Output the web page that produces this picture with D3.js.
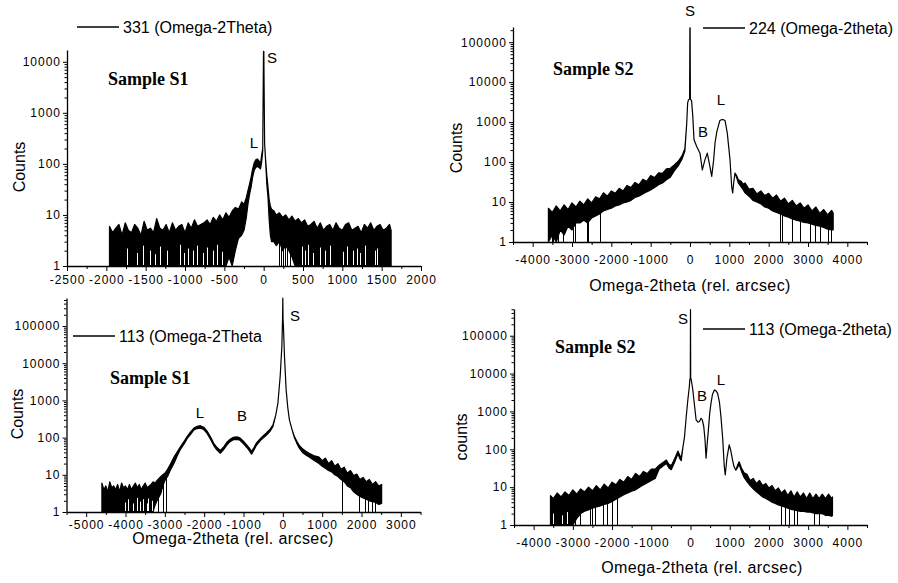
<!DOCTYPE html>
<html>
<head>
<meta charset="utf-8">
<script src="https://cdn.jsdelivr.net/npm/d3@7"></script>
<style>
  body { margin: 0; background: #fff; }
  text { font-family: "Liberation Sans", Arial, sans-serif; fill: #000; }
  .tick text { font-size: 12px; letter-spacing: 1px; }
  .sample { font-family: "Liberation Serif", "Times New Roman", serif; font-weight: bold; font-size: 18px; }
</style>
</head>
<body>
<div id="chart"></div>
<script>

// values: position in rel. arcsec, upper / lower edge of the trace in counts
// dips = positions where the noisy trace drops down to 1 count
// gaps = white slits inside the solid noise band (position, height in counts)

// 331 Omega-2Theta, sample S1
var p1X = [-1960,-1920,-1880,-1840,-1800,-1760,-1720,-1680,-1640,-1600,-1560,-1520,-1480,-1440,-1400,-1360,-1320,-1280,-1240,-1200,-1160,-1120,-1080,-1040,-1000,-960,-920,-880,-840,-800,-760,-720,
  -680,-640,-600,-560,-520,-480,-440,-400,-360,-320,-280,-250,-220,-200,-180,-160,-140,-120,-100,-80,-60,-40,-25,-12,-6,-2,2,6,12,25,40,55,70,85,100,130,160,200,240,280,320,360,400,440,480,
  520,560,600,640,680,720,760,800,840,880,920,960,1000,1040,1080,1120,1160,1200,1240,1280,1320,1360,1400,1440,1480,1520,1560,1600,1620];
var p1Hi = [6,4.5,5.5,6.5,4,7,5,4.5,6.5,5.5,4,7.5,5,5.5,4.5,8.5,5.5,5,6.5,4.5,7,5,6,6.5,4.5,7,5.5,8,6,6.5,7,8,
  6.5,9,7.5,10,8,11,9,12,14,13,18,16,22,30,40,55,80,105,120,125,115,100,150,200,3000,16000,16000,3000,250,120,60,35,20,15,13,12,10,11,9,10,8,9.5,7.5,8.5,7,
  8,6,6.5,7.5,5.5,7,5,6,6.5,5,7,5.5,5,6.5,7,5,5.5,6,4.5,6.5,5.5,7,5,6,6.5,5,5.5,6.5,5];
var p1Lo = [1,1,1,1,1,1,1,1,1,1,1,1,1,1,1,1,1,1,1,1,1,1,1,1,1,1,1,1,1,1,1,1,
  1,1,1,1,1,1,1.5,1,2,3.5,4,5,9,16,25,35,55,75,85,90,85,80,110,180,3000,16000,16000,3000,250,110,40,22,8,4,3,3,2.5,3,2,2.5,2,1.5,1,1,1,
  1,1,1,1,1,1,1,1,1,1,1,1,1,1,1,1,1,1,1,1,1,1,1,1,1,1,1,1,1];
var p1Dips = [190,215,250,270,300,330];
var p1Gaps = [-1737,-1610,-1534,-1445,-1382,-1318,-1229,-1064,-1013,-962,-899,-848,-771,-721,-645,-594,-530,
  487,525,563,627,716,779,843,1009,1059,1136,1187,1225,1288,1415,1441];
var p1GapTop = [2.2,1.8,2.5,2,1.7,2.4,2,2.6,1.8,2.2,2,2.5,1.8,2.3,2,2.6,1.9,
  2.4,2,2.6,1.8,2.3,2,2.5,1.9,2.4,2,2.2,1.8,2.5,2,2.2];

// 224 Omega-2theta, sample S2
var p2X = [-3600,-3500,-3400,-3300,-3200,-3100,-3000,-2900,-2800,-2700,-2600,-2500,-2400,-2300,-2200,-2100,-2000,-1900,-1800,-1700,-1600,-1500,-1400,-1300,-1200,-1100,-1000,-900,-800,-700,-600,-500,
  -400,-300,-200,-130,-84,-60,-40,-10,-3,3,10,40,69,102,170,254,313,381,440,491,552,600,636,680,719,760,800,850,890,948,1017,1060,1085,1110,1144,1190,1228,1300,1355,
  1400,1500,1600,1700,1800,1900,2000,2100,2200,2300,2400,2500,2600,2700,2800,2900,3000,3100,3200,3300,3400,3500,3600,3640];
var p2Hi = [7,5.5,8,6,8.5,6.5,9.5,7.5,10.5,8.5,12,9.5,13.5,12,17,14,19,16.5,22,19,26,23,31,27,37,33,46,41,54,52,68,70,
  85,105,145,220,900,3000,3600,3800,230000,230000,3800,3400,1500,360,245,167,64,115,167,93,44,110,300,560,780,1100,1150,1150,1100,530,115,24,17,30,53,45,36,33,28,
  30,21,22,16,19,14.5,16.5,12.5,15,10.5,12.5,9,11,8,9.5,7,8.5,6,7.5,5.2,6.5,4.8,6.2,5.3];
var p2Lo = [1,1.5,1,2,1.5,2.5,2,3,3,3.5,3,4,4.5,5,6,6.5,7,8,8.5,9.5,10,11,13,14,16,18,20,23,27,30,36,42,
  60,80,120,190,900,3000,3600,3800,230000,230000,3800,3400,1500,360,245,167,64,115,167,93,44,110,300,560,780,1100,1150,1150,1100,530,115,24,17,30,53,40,30,24,20,
  17,14,11,10,9,7.5,7,6,5.5,5,4.5,4.2,3.8,3.5,3.3,3.1,3,2.8,2.6,2.5,2.3,2.1,2,2];
var p2Dips = [-3515,-3473,-3346,-3218,-2965,-2922,-2626,-2583,-2287,2287,2329,2583,2795,3049,3176,3303,3515,3574];
var p2Gaps = [];
var p2GapTop = [];

// 113 Omega-2Theta, sample S1
var p3X = [-4600,-4550,-4500,-4450,-4400,-4350,-4300,-4250,-4200,-4150,-4100,-4050,-4000,-3950,-3900,-3850,-3800,-3750,-3700,-3650,-3600,-3550,-3500,-3450,-3400,-3350,-3300,
  -3250,-3200,-3150,-3100,-3050,-3000,-2930,-2850,-2760,-2680,-2596,-2510,-2430,-2350,-2260,-2180,-2094,-2010,-1926,-1840,-1760,-1680,-1590,-1510,-1424,-1340,-1256,-1170,-1090,-1000,
  -920,-850,-795,-730,-670,-550,-420,-330,-250,-180,-125,-67,-25,-8,0,5,15,42,84,125,167,230,293,356,419,500,585,670,780,
  920,1000,1080,1160,1240,1320,1400,1480,1560,1640,1720,1800,1880,1960,2040,2120,2200,2280,2360,2440,2512];
var p3Hi = [6,4,5,3.5,6.5,4.5,5,4,5.5,3.5,6,4.5,5,4,5.5,4,5,6,4.5,5.5,4,5,6,4.5,5,5.5,6.5,
  6,7,8,9,10,11,14,20,31,42,58,80,108,140,181,200,209,190,150,105,71,55,45,55,75,90,102,105,98,80,
  64,52,42,55,72,100,133,165,222,400,850,4500,28000,150000,560000,160000,100000,15000,1950,650,300,170,108,80,62,50,43,38,33,
  30,24,28,20,24,17,20,14,16,11,13,9.5,10.5,7.5,8.5,6.5,7.5,5.5,6.5,5,5.5];
var p3Lo = [1,1,1,1,1,1,1,1,1,1,1,1,1,1,1,1,1,1,1,1,1,1,1,1,1,1,1,
  1.5,2,2.5,3.2,5,7,9,14,21,33,50,68,95,120,160,175,180,165,130,90,62,47,38,47,63,78,88,90,85,68,
  55,44,36,47,62,88,115,145,200,400,850,4500,28000,150000,560000,160000,100000,15000,1950,650,300,170,100,70,52,40,34,30,25,
  20,17,15,13,12,10,9,7.5,6.5,5,4.5,3.5,3,2.6,2.4,2.2,2,1.9,1.8,1.6,1.7];
var p3Dips = [-3183,-3057,-2973,1507,1926,2094,2160,2261,2345];
var p3Gaps = [-4013,-3929,-3802,-3716,-3632,-3548,-3461,-3421,-3334];
var p3GapTop = [1.8,2.2,1.7,2.4,1.9,2.2,1.7,2.3,2];

// 113 Omega-2theta, sample S2
var p4X = [-3570,-3500,-3400,-3300,-3200,-3100,-3000,-2900,-2800,-2700,-2600,-2500,-2400,-2300,-2200,-2100,-2000,-1900,-1800,-1700,-1600,-1500,-1400,-1300,-1200,-1100,-1000,-900,
  -800,-700,-616,-550,-490,-400,-320,-270,-236,-190,-152,-110,-68,-30,-17,-5,0,5,17,40,59,100,143,190,228,270,300,338,370,397,420,456,490,523,560,608,650,692,740,776,
  820,861,886,930,987,1030,1072,1110,1156,1200,1240,1300,1367,
  1440,1520,1600,1680,1760,1840,1920,2000,2080,2160,2240,2320,2400,2480,2560,2640,2720,2800,2880,2960,3040,3120,3200,3280,3360,3440,3520,3600,3620];
var p4Hi = [6,5,7,5.5,7.5,6,8.5,6.5,9,7.5,10,8,11,8.5,12,9.5,13.5,11.5,16,13.5,19,16,23,19,26,23,30,30,
  38,45,52,40,37,58,90,68,60,120,217,700,2000,4500,7000,7600,490000,7600,7000,5000,3700,1500,600,520,540,660,600,400,180,58,120,325,900,1650,2800,3700,3500,3000,1700,730,
  200,35,21,60,130,90,52,35,28,38,47,32,24,
  22,15,17,12.5,15,11,12.5,9.5,11,8,9.5,7,8.5,6,8,5.5,7.5,5.5,7,5,7,5,6.5,5,6.5,5,6.5,5,5.5];
var p4Lo = [1,1,1,1,1,1,1,1.5,2,2.3,2.5,2.8,3,3.2,3.5,3.7,4.2,4.8,5.5,6.3,7,7.8,8.5,10,11.5,13,15,17,
  30,36,42,32,29,47,76,56,50,120,217,700,2000,4500,7000,7600,490000,7600,7000,5000,3700,1500,600,520,540,660,600,400,180,58,120,325,900,1650,2800,3700,3500,3000,1700,730,
  200,35,21,60,130,90,52,35,28,33,40,26,18,
  14,11,9,7.5,6.5,5.5,5,4.5,4,3.7,3.4,3.2,3,2.8,2.6,2.5,2.4,2.3,2.3,2.2,2.2,2.1,2,2,2,1.8,1.8,1.7,1.8];
var p4Dips = [-3528,-3444,-3317,-3190,-3064,-2937,-2810,-2557,-2515,-2431,-2220,-2135,-2009,-1882,2296,2422,2507,2633,2718,3140,3266];
var p4Gaps = [-3498,-3284,-3156];
var p4GapTop = [2,1.8,2.2];

var panels = [
  {x: p1X, hi: p1Hi, lo: p1Lo, dips: p1Dips, gaps: p1Gaps, gapTop: p1GapTop, xDomain: [-2500, 2000], yMax: 17000,
   left: 67, right: 421, top: 50, bottom: 266, step: 500, minor: 250, pad: 4,
   legend: "331 (Omega-2Theta)", legendX: 77, legendY: 27,
   sample: "Sample S1", sampleX: 108, sampleY: 85,
   yTitle: "Counts", yTitleX: 25, yTitleY: 167, xTitle: null,
   peaks: [["S", 272, 63], ["L", 254, 148]]},
  {x: p2X, hi: p2Hi, lo: p2Lo, dips: p2Dips, gaps: p2Gaps, gapTop: p2GapTop, xDomain: [-4500, 4500], yMax: 240000,
   left: 513, right: 867, top: 27, bottom: 242, step: 1000, minor: 500, pad: 8,
   legend: "224 (Omega-2theta)", legendX: 703, legendY: 28,
   sample: "Sample S2", sampleX: 553, sampleY: 75,
   yTitle: "Counts", yTitleX: 462, yTitleY: 148, xTitleX: 690, xTitleY: 291,
   peaks: [["S", 690, 16], ["B", 703, 137], ["L", 721, 105]]},
  {x: p3X, hi: p3Hi, lo: p3Lo, dips: p3Dips, gaps: p3Gaps, gapTop: p3GapTop, xDomain: [-5500, 3500], yMax: 566000,
   left: 66.5, right: 420.5, top: 298, bottom: 512, step: 1000, minor: 500, pad: 3,
   legend: "113  (Omega-2Theta", legendX: 73, legendY: 336,
   sample: "Sample S1", sampleX: 110, sampleY: 384,
   yTitle: "Counts", yTitleX: 23, yTitleY: 414, xTitleX: 233, xTitleY: 544,
   peaks: [["S", 295, 321], ["L", 200, 418], ["B", 242, 421]]},
  {x: p4X, hi: p4Hi, lo: p4Lo, dips: p4Dips, gaps: p4Gaps, gapTop: p4GapTop, xDomain: [-4500, 4500], yMax: 508000,
   left: 514, right: 867, top: 309, bottom: 525, step: 1000, minor: 500, pad: 8,
   legend: "113 (Omega-2theta)", legendX: 703, legendY: 329,
   sample: "Sample S2", sampleX: 555, sampleY: 353,
   yTitle: "counts", yTitleX: 467, yTitleY: 437, xTitleX: 702, xTitleY: 573,
   peaks: [["S", 683, 324], ["B", 702, 401], ["L", 721, 385]]}
];

var svg = d3.select("#chart").append("svg")
    .attr("width", 898)
    .attr("height", 583);

panels.forEach(function(p) {
  var x = d3.scaleLinear().domain(p.xDomain).range([p.left, p.right]);
  var y = d3.scaleLog().domain([1, p.yMax]).range([p.bottom, p.top]);
  // snap thin vertical strokes onto the pixel grid
  var px = function(v) { return Math.round(x(v)) + 0.5; };

  var data = p.x.map(function(v, i) { return {x: v, hi: p.hi[i], lo: p.lo[i]}; });

  var g = svg.append("g");

  // the trace, drawn as the band between its upper and lower edge
  g.append("path")
      .datum(data)
      .attr("fill", "#000")
      .attr("stroke", "#000")
      .attr("stroke-width", 1.2)
      .attr("stroke-linejoin", "round")
      .attr("d", d3.area()
          .x(function(d) { return x(d.x); })
          .y0(function(d) { return y(d.lo); })
          .y1(function(d) { return y(d.hi); }));

  var bis = d3.bisector(function(d) { return d.x; }).center;
  g.selectAll(".dip")
      .data(p.dips)
    .enter().append("line")
      .attr("class", "dip")
      .attr("x1", px)
      .attr("x2", px)
      .attr("y1", y(1))
      .attr("y2", function(d) { var r = data[bis(data, d)]; return y(Math.sqrt(r.hi * r.lo)); })
      .attr("stroke", "#000")
      .attr("stroke-width", 1);

  g.selectAll(".gap")
      .data(p.gaps)
    .enter().append("line")
      .attr("class", "gap")
      .attr("x1", px)
      .attr("x2", px)
      .attr("y1", y(1) - 1)
      .attr("y2", function(d, i) { return y(p.gapTop[i]); })
      .attr("stroke", "#fff")
      .attr("stroke-width", 1);

  // major / minor ticks on the x axis
  var major = d3.range(Math.ceil(p.xDomain[0] / p.step) * p.step, p.xDomain[1] + 1, p.step);
  var minor = d3.range(Math.ceil(p.xDomain[0] / p.minor) * p.minor, p.xDomain[1] + 1, p.minor)
      .filter(function(d) { return d % p.step !== 0; });

  var decades = [], logMinor = [];
  for (var k = 1; k <= p.yMax; k *= 10) {
    decades.push(k);
    for (var m = 2; m < 10; m++) if (m * k <= p.yMax) logMinor.push(m * k);
  }

  g.append("g")
      .attr("transform", "translate(0," + p.bottom + ")")
      .call(d3.axisBottom(x).tickValues(minor).tickSize(3).tickSizeOuter(0).tickFormat(""))
      .select(".domain").remove();

  g.append("g")
      .attr("transform", "translate(0," + p.bottom + ")")
      .call(d3.axisBottom(x).tickValues(major).tickSize(5).tickSizeOuter(0).tickPadding(p.pad)
          .tickFormat(function(d) { return String(d); }));

  g.append("g")
      .attr("transform", "translate(" + p.left + ",0)")
      .call(d3.axisLeft(y).tickValues(logMinor).tickSize(2.5).tickSizeOuter(0).tickFormat(""))
      .select(".domain").remove();

  g.append("g")
      .attr("transform", "translate(" + p.left + ",0)")
      .call(d3.axisLeft(y).tickValues(decades).tickSize(4).tickSizeOuter(0).tickPadding(2)
          .tickFormat(function(d) { return String(d); }));

  g.selectAll(".domain").attr("stroke-width", 1.3);

  // legend
  g.append("line")
      .attr("x1", p.legendX).attr("x2", p.legendX + 42)
      .attr("y1", p.legendY).attr("y2", p.legendY)
      .attr("stroke", "#000").attr("stroke-width", 1.3);
  g.append("text")
      .attr("x", p.legendX + 46)
      .attr("y", p.legendY + 6)
      .style("font-size", "16px")
      .text(p.legend);

  g.append("text")
      .attr("class", "sample")
      .attr("x", p.sampleX)
      .attr("y", p.sampleY)
      .text(p.sample);

  g.append("text")
      .attr("transform", "translate(" + p.yTitleX + "," + p.yTitleY + ") rotate(-90)")
      .attr("text-anchor", "middle")
      .style("font-size", "16px")
      .text(p.yTitle);

  if (p.xTitle !== null) {
    g.append("text")
        .attr("x", p.xTitleX)
        .attr("y", p.xTitleY)
        .attr("text-anchor", "middle")
        .style("font-size", "16px")
        .style("letter-spacing", "0.4px")
        .text("Omega-2theta (rel. arcsec)");
  }

  g.selectAll(".peak")
      .data(p.peaks)
    .enter().append("text")
      .attr("class", "peak")
      .attr("x", function(d) { return d[1]; })
      .attr("y", function(d) { return d[2]; })
      .attr("text-anchor", "middle")
      .style("font-size", "15px")
      .text(function(d) { return d[0]; });
});
</script>
</body>
</html>
